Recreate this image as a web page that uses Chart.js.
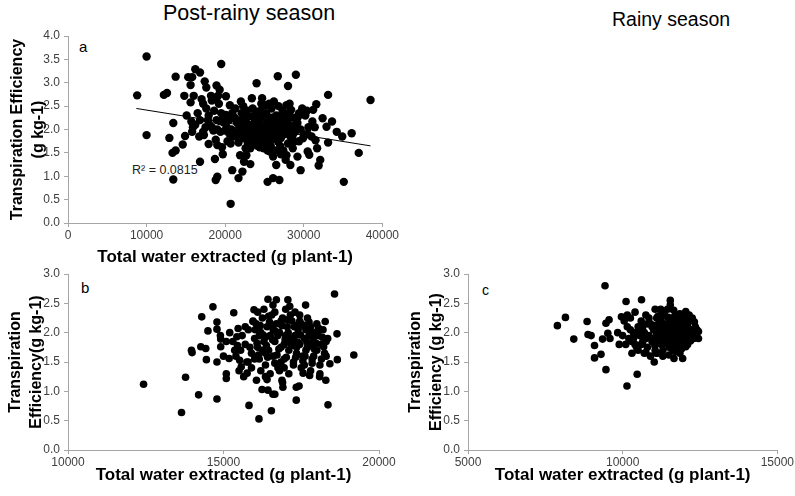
<!DOCTYPE html>
<html>
<head>
<meta charset="utf-8">
<script src="https://cdn.jsdelivr.net/npm/chart.js@4"></script>
<style>
  body { margin: 0; background: #fff; width: 795px; height: 496px; overflow: hidden; position: relative; font-family: "Liberation Sans", Arial, sans-serif; }
  canvas { position: absolute; }
  .txt { position: absolute; color: #000; white-space: nowrap; line-height: 1; }
</style>
</head>
<body>
<div class="txt" style="left:163px; top:3px; font-size:21.5px;">Post-rainy season</div>
<div class="txt" style="left:612px; top:10px; font-size:19.5px;">Rainy season</div>
<div class="txt" style="left:79px; top:39px; font-size:15px;">a</div>
<div class="txt" style="left:81px; top:280px; font-size:15px;">b</div>
<div class="txt" style="left:482px; top:283px; font-size:14px;">c</div>
<div class="txt" style="left:132px; top:164px; font-size:12.5px; color:#222;">R² = 0.0815</div>

<canvas id="chartA" width="400" height="268" style="left:0; top:0;"></canvas>
<canvas id="chartB" width="400" height="234" style="left:0; top:262px;"></canvas>
<canvas id="chartC" width="395" height="234" style="left:400px; top:262px;"></canvas>

<script>
// Panel a - post-rainy season, TE vs water extracted
const postRainyA = [
  [8800,2.73],[10000,3.56],[10000,1.88],[12200,2.74],[12600,2.78],[12900,1.82],[13400,2.14],[13300,1.50],
  [13700,1.55],[13700,3.13],[13400,0.93],[14800,2.72],[15100,2.30],[14900,1.86],[15300,3.12],[15600,2.95],
  [15800,3.12],[16000,2.72],[15600,2.58],[16200,3.29],[16800,3.22],[17400,3.03],[17600,2.90],[18200,2.72],
  [18900,2.94],[18900,2.68],[19300,2.85],[19500,3.40],[20100,2.71],[20100,2.31],[15700,2.17],[15800,1.95],
  [14600,1.68],[16700,1.85],[16800,1.31],[17200,1.95],[17900,1.69],[19000,1.67],[18700,1.37],[18800,0.92],
  [19000,0.99],[19700,1.47],[20700,1.70],[20900,1.13],[20700,0.41],[21700,0.96],[21900,1.45],[21500,1.87],
  [22400,1.31],[22200,1.10],[23200,1.26],[22600,1.60],[22400,1.81],[23400,2.67],[24000,2.99],[24700,2.67],
  [25100,2.52],[25700,1.53],[26100,1.42],[25400,0.88],[26100,0.96],[26900,0.92],[26500,1.24],[27100,1.47],
  [26700,3.14],[28000,2.93],[29000,3.17],[27800,2.52],[28400,2.42],[29200,2.14],[28800,1.96],[29900,1.81],
  [30700,1.46],[30500,1.53],[29600,1.13],[29200,1.42],[28300,1.24],[27700,1.35],[31200,2.42],[31600,2.54],
  [32400,2.24],[33100,2.74],[33100,1.72],[32100,1.35],[31900,1.23],[31500,1.77],[31700,1.60],[33600,2.17],
  [34200,1.95],[34900,1.85],[36100,1.92],[37000,1.50],[35100,0.88],[38500,2.63],[30500,1.90],[31100,2.17],
  [32900,2.06],
  [17200,2.55],[17600,2.45],[17900,2.30],[18300,2.62],[18600,2.40],[18900,2.20],[19200,2.55],[19500,2.35],
  [19800,2.15],[20200,2.05],[17500,2.05],[18000,2.10],[18500,1.98],[19000,2.00],[19400,1.95],[19800,2.25],
  [20500,2.20],[20800,2.00],[21200,2.25],[21500,2.15],[21800,2.05],[22100,2.35],[22300,2.50],[22600,2.20],
  [22800,2.05],[23000,1.90],[23300,1.80],[23500,2.45],[23700,2.30],[23900,1.95],[24100,1.75],[24300,2.15],
  [24500,2.40],[24700,1.85],[24900,2.05],[25100,1.70],[25300,2.30],[25500,1.95],[25700,2.15],[25900,2.45],
  [26100,1.80],[26300,2.00],[26500,2.30],[26700,1.75],[26900,2.20],[27100,2.05],[27300,2.40],[27500,1.90],
  [27700,2.25],[27900,2.10],[28100,2.35],[28300,1.85],[28500,2.00],[28700,2.25],[28900,1.95],[29100,2.15],
  [22900,1.70],[23200,1.60],[23600,1.68],[24000,1.85],[24400,1.62],[24800,1.78],[22500,1.85],[23100,2.10],
  [24200,2.00],[25600,2.55],[26200,2.60],[26800,2.50],[27600,2.20],[28200,2.55],[27000,1.65],[27400,1.55],
  [28000,1.70],[28600,1.60],[29400,1.75],[29800,2.45],[30200,2.30],[30600,2.05],[30000,1.90],[21000,1.85],
  [21600,1.95],[20300,1.75],[19600,1.62],[18800,1.78],[21300,2.45],[20600,2.52],[22000,2.60],[24600,2.55],
  [25200,2.35],[23800,2.20],[25800,1.65],[26400,1.55],[27800,1.45],[26000,1.90],[24500,1.95],[23400,2.00],
  [22400,2.25],[27200,2.30],[28800,1.75],[29600,2.00],[16500,2.35],[16800,2.20],[17000,2.65],[16200,2.10],
  [15900,2.05],[17300,1.88],[19100,2.72],[20000,1.98],[21700,1.72],[22700,1.45],[25400,1.55],[27300,1.98],
  [29300,2.28],[30400,2.40],[31000,1.85],[31400,2.05],
  [22200,2.12],[22700,1.92],[23000,2.28],[23300,2.05],[23600,1.88],[23900,2.12],[24200,1.78],[24400,2.28],
  [24700,2.02],[25000,1.88],[25300,2.12],[25600,1.82],[25900,2.05],[26200,2.18],[26500,1.92],[26800,2.08],
  [27100,1.82],[27400,2.15],[27700,1.98],[28000,2.22],[28300,2.08],[28600,1.88],[23500,1.72],[24100,1.65],
  [24900,1.60],[22300,1.95],[21900,2.20],[19300,2.18],[18300,2.05],[17800,2.20],[20900,2.35],[20500,1.92],
  [26000,2.25],[27500,2.30],[28900,2.05],[29400,2.35],[24000,2.38],[25000,2.25],[22800,2.40],[23600,1.98]
];
// linear trend line end points, panel a
const trendA = [[8700,2.45],[38500,1.65]];

// Panel b - post-rainy season
const postRainyB = [
  [12430,1.12],[13650,0.64],[13780,1.24],[14200,0.94],[13970,1.70],[13990,1.66],[14300,2.27],[14270,1.76],
  [14430,1.73],[14500,2.03],[14450,1.54],[14660,2.44],[14790,2.18],[14790,2.06],[14790,1.50],[14790,0.87],
  [14910,1.89],[14910,1.76],[15090,1.85],[15090,1.30],[15090,1.22],[15180,1.56],[15330,2.34],[15360,1.70],
  [15470,2.07],[15430,1.93],[15520,1.53],[15570,1.42],[15790,1.50],[15820,0.76],[15950,2.19],[15980,2.39],
  [15760,1.31],[16060,1.19],[16140,0.53],[16240,1.03],[16350,1.25],[16430,2.57],[16430,1.02],[16540,0.67],
  [16590,0.95],[16650,0.95],[16700,2.56],[16590,2.47],[16910,1.07],[16880,1.19],[17070,2.56],[17130,2.45],
  [17340,0.85],[17340,1.07],[17430,1.09],[17640,2.47],[17560,1.31],[17770,1.27],[18090,1.25],[18290,1.19],
  [18270,2.19],[18360,0.77],[18570,2.66],[18650,1.98],[18660,1.54],[18420,1.47],[19190,1.62],
  [15600,1.95],[15700,1.80],[15800,2.05],[15900,1.65],[16000,1.90],[16050,2.15],[16100,1.75],[16150,1.55],
  [16200,2.00],[16250,2.25],[16300,1.85],[16350,1.45],[16400,2.10],[16450,1.70],[16500,1.95],[16550,2.30],
  [16600,1.60],[16650,1.85],[16700,2.15],[16750,1.40],[16800,2.00],[16850,1.75],[16900,2.25],[16950,1.55],
  [17000,1.95],[17050,2.10],[17100,1.70],[17150,1.85],[17200,2.20],[17250,1.50],[17300,1.95],[17350,1.65],
  [17400,2.05],[17450,1.80],[17500,2.15],[17550,1.60],[17600,1.90],[17650,2.05],[17700,1.75],[17750,1.95],
  [17800,2.10],[17850,1.55],[17900,1.85],[17950,2.00],[18000,1.70],[18050,1.95],[18100,1.45],[18150,1.80],
  [18200,2.05],[18250,1.65],[16100,2.35],[16300,2.40],[16650,2.35],[17000,2.40],[17300,2.35],[17700,2.25],
  [15500,1.35],[15650,1.25],[15900,1.40],[16200,1.35],[16500,1.30],[16800,1.35],[17100,1.30],[17500,1.40],
  [17800,1.35],[18100,1.30],[15400,1.60],[15300,1.85],[15200,2.00],[15000,1.60],[14900,1.95],[16400,1.20],
  [16900,1.15],[17600,1.45],[18300,1.60],[18350,1.90],[16000,1.55],[16600,2.05],[17200,1.90],[17900,1.60],
  [16750,1.95],[16150,1.95],[17450,2.20],[18000,2.15],[15750,1.50],[16850,1.50],[17350,1.75],[16350,1.65],
  [16950,1.80],[17650,1.70],
  [16020,2.05],[16080,1.82],[16180,2.12],[16280,1.96],[16380,1.78],[16480,2.18],[16580,1.88],[16680,2.02],
  [16780,1.72],[16880,2.12],[16980,1.88],[17080,2.00],[17180,1.78],[17280,2.10],[17380,1.84],[17480,1.96],
  [17580,2.12],[17680,1.84],[17780,2.02],[17880,1.92],[17980,1.82],[18080,2.06],[18180,1.92],[16120,1.62],
  [16420,1.58],[16720,1.62],[17020,1.58],[17320,1.58],[17620,1.60],[17920,1.72],[18220,1.76],[15850,1.75],
  [15950,2.20],[16250,1.70],[16550,2.12],[16850,2.20],[17150,2.30],[17450,2.30],[17750,2.18],[18050,2.08],
  [16650,1.48],[16950,1.40],[17250,1.45],[17550,1.52],[17850,1.48],[18150,1.55],[16350,1.92],[16450,2.28],
  [17050,2.22],[17350,2.12],[15550,1.70],[15450,1.78],[17800,1.80],[18300,1.85],[15700,2.10]
];

// Panel c - rainy season
const rainyC = [
  [7890,2.12],[8150,2.26],[8420,1.89],[8850,2.19],[8880,1.97],[8980,1.95],[9090,1.78],[9090,1.57],
  [9300,1.63],[9350,1.89],[9430,2.80],[9460,1.37],[9460,2.16],[9560,2.22],[9520,1.99],[9590,1.90],
  [9840,2.00],[9890,1.80],[9960,2.27],[10140,1.09],[10110,2.53],[10470,1.29],[10610,2.56],[10750,1.66],
  [11020,1.50],[11110,1.65],[11230,2.40],[11540,2.55],[11540,2.47],[11660,1.56],[11940,1.56],[12450,2.02],
  [12260,2.22],[12150,2.30],[12040,2.36],
  [10000,1.95],[10100,1.80],[10150,2.10],[10200,1.90],[10250,2.25],[10300,1.85],[10350,2.00],[10400,2.35],
  [10450,1.75],[10500,2.10],[10550,1.95],[10600,2.20],[10650,1.85],[10700,2.00],[10750,2.30],[10800,1.75],
  [10850,1.95],[10900,2.15],[10950,1.85],[11000,2.05],[11050,1.70],[11100,2.25],[11150,1.95],[11200,2.10],
  [11250,1.80],[11300,2.00],[11350,2.30],[11400,1.90],[11450,2.15],[11500,1.75],[11550,2.05],[11600,2.25],
  [11650,1.85],[11700,2.00],[11750,2.20],[11800,1.90],[11850,2.10],[11900,1.80],[11950,2.30],[12000,2.00],
  [12050,1.85],[12100,2.15],[12150,1.95],[12200,2.05],[12300,1.90],[12350,2.10],[11100,1.65],[11300,1.70],
  [11500,1.62],[11700,1.68],[11900,1.72],[11250,2.35],[11450,2.40],[11650,2.38],[11850,2.32],[10700,1.65],
  [10500,1.70],[10300,1.65],[10850,2.25],[11050,2.40],[11400,2.05],[11600,1.95],[11800,2.05],[12000,2.20],
  [11200,1.85],[11550,1.90],[11750,1.78],[11950,1.95],[12250,2.25],[10900,1.60],[10600,1.80],[10450,2.00],
  [10150,2.30],[10050,2.20],[11350,1.85],[11850,1.65],[12100,1.80],[11000,1.90],
  [11020,2.12],[11080,1.88],[11130,2.02],[11180,2.18],[11220,1.96],[11270,2.08],[11320,1.82],[11370,2.14],
  [11420,1.98],[11470,2.26],[11520,1.86],[11570,2.12],[11620,2.04],[11670,1.92],[11720,2.16],[11770,1.84],
  [11820,2.22],[11870,1.96],[11920,2.08],[11970,1.88],[12020,2.12],[12070,2.00],[12120,1.90],[12170,2.24],
  [12220,1.92],[12270,2.04],[12320,2.18],[12380,1.98],[11040,1.78],[11140,2.28],[11240,2.22],[11340,1.94],
  [11440,1.82],[11540,2.20],[11640,2.14],[11740,1.94],[11840,2.00],[11940,2.14],[12040,1.76],[12140,2.06],
  [11090,2.00],[11190,1.90],[11290,2.16],[11390,2.02],[11490,2.08],[11590,1.80],[11690,2.28],[11790,2.12],
  [11890,1.90],[11990,2.06],[12090,2.30],[12190,1.86],[10350,1.90],[10550,2.05],[10750,1.90],[10950,2.10],
  [10650,2.10],[10250,2.05],[10800,2.15],[10400,1.80],[11600,1.72],[11800,1.70],[12000,1.80],[11300,1.60],
  [12400,2.05],[12450,1.90]
];

const xTitle = 'Total water extracted (g plant-1)';
const yTitleA = ['Transpiration Efficiency', '(g kg-1)'];
const yTitleB = ['Transpiration', 'Efficiency(g kg-1)'];
const yTitleC = ['Transpiration', 'Efficiency (g kg-1)'];

const axisColor = '#a6a6a6';
const tickColor = '#404040';
const FONT = '"Liberation Sans", Arial, sans-serif';

function toPoints(arr) {
    return arr.map(function (p) { return { x: p[0], y: p[1] }; });
}

// build options for one panel; chart area is pinned with afterFit so the panels line up
function panelOptions(cfg) {
    return {
        responsive: false,
        animation: false,
        devicePixelRatio: 1,
        layout: { padding: { top: cfg.top, right: cfg.right, left: 0, bottom: 0 } },
        plugins: { legend: { display: false }, tooltip: { enabled: false } },
        scales: {
            x: {
                type: 'linear',
                min: cfg.xMin, max: cfg.xMax,
                afterBuildTicks: function (s) {
                    s.ticks = [];
                    for (let v = cfg.xMin; v <= cfg.xMax; v += cfg.xStep) s.ticks.push({ value: v });
                },
                afterFit: function (s) { s.height = cfg.xHeight; },
                grid: { drawOnChartArea: false, drawTicks: true, tickLength: 4, color: axisColor },
                border: { color: axisColor, width: 1 },
                ticks: {
                    color: tickColor, padding: 1,
                    font: { family: FONT, size: 12 },
                    callback: function (v) { return String(v); }
                },
                title: {
                    display: true, text: xTitle, color: '#000',
                    font: { family: FONT, size: 17, weight: 'bold' },
                    padding: { top: 0, bottom: cfg.xTitlePad }
                }
            },
            y: {
                min: 0, max: cfg.yMax,
                ticks: {
                    stepSize: 0.5, color: tickColor, padding: 4,
                    font: { family: FONT, size: 12 },
                    callback: function (v) { return v.toFixed(1); }
                },
                afterFit: function (s) { s.width = 68; },
                grid: { drawOnChartArea: false, drawTicks: true, tickLength: 4, color: axisColor },
                border: { color: axisColor, width: 1 },
                title: {
                    display: true, text: cfg.yTitle, color: '#000',
                    font: { family: FONT, size: 16, weight: 'bold', lineHeight: 1.3 },
                    padding: { top: cfg.yTitlePad, bottom: 0 }
                }
            }
        }
    };
}

function dots(arr, r) {
    return {
        data: toPoints(arr),
        backgroundColor: '#000',
        borderWidth: 0,
        pointRadius: r,
        pointHoverRadius: r
    };
}

document.addEventListener('DOMContentLoaded', function () {
    window.chartA = new Chart(document.getElementById('chartA').getContext('2d'), {
        type: 'scatter',
        data: {
            datasets: [
                dots(postRainyA, 4.2),
                {
                    data: toPoints(trendA),
                    showLine: true,
                    borderColor: '#000',
                    borderWidth: 1,
                    pointRadius: 0
                }
            ]
        },
        options: panelOptions({
            top: 36, right: 10, xHeight: 45, xTitlePad: 0,
            xMin: 0, xMax: 40000, xStep: 10000, yMax: 4,
            yTitle: yTitleA, yTitlePad: 7
        })
    });

    window.chartB = new Chart(document.getElementById('chartB').getContext('2d'), {
        type: 'scatter',
        data: { datasets: [dots(postRainyB, 3.8)] },
        options: panelOptions({
            top: 12, right: 21, xHeight: 46, xTitlePad: 10,
            xMin: 10000, xMax: 20000, xStep: 5000, yMax: 3,
            yTitle: yTitleB, yTitlePad: 5
        })
    });

    window.chartC = new Chart(document.getElementById('chartC').getContext('2d'), {
        type: 'scatter',
        data: { datasets: [dots(rainyC, 3.8)] },
        options: panelOptions({
            top: 12, right: 17, xHeight: 46, xTitlePad: 10,
            xMin: 5000, xMax: 15000, xStep: 5000, yMax: 3,
            yTitle: yTitleC, yTitlePad: 5
        })
    });
});
</script>
</body>
</html>
